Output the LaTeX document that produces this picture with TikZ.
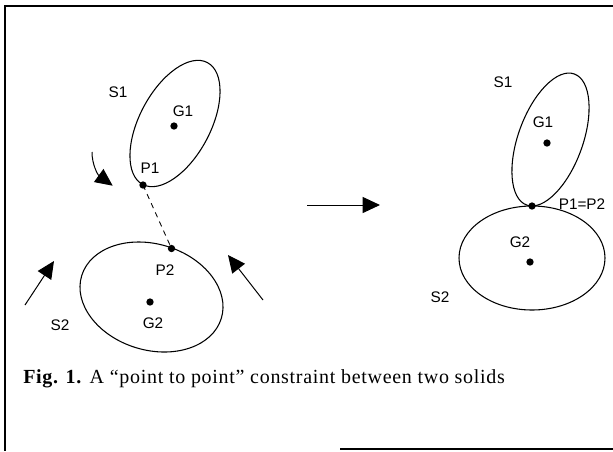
\documentclass[tikz,border=0pt]{standalone}
\usepackage{fontspec}
\setmainfont{Liberation Serif}
\newfontfamily\lblfont{Liberation Sans}
\newfontfamily\capfont[LetterSpace=3.5]{Liberation Serif}
\usetikzlibrary{arrows.meta}
\begin{document}
\begin{tikzpicture}[x=0.75pt,y=-0.75pt,
  outline/.style={line width=0.8pt},
  dotpt/.style={circle,fill,inner sep=0pt,minimum size=5.5pt},
  lbl/.style={font=\lblfont\fontsize{11.5}{13}\selectfont, inner sep=0pt},
  bigarrow/.style={line width=0.75pt,-{Triangle[length=13pt,width=12pt]}},
  dashline/.style={line width=0.65pt,dash pattern=on 4pt off 3.5pt},
  frameline/.style={line width=1.1pt}]
\useasboundingbox (0,0) rectangle (613,451);
% frame
\draw[frameline] (4,6) -- (613,6);
\draw[frameline] (5,6) -- (5,451);
\draw[frameline] (340,449) -- (613,449);

% ---------- left: before ----------
\draw[outline, rotate around={62:(175,123.5)}] (175,123.5) ellipse [x radius=51.75pt, y radius=26.6pt];
\draw[outline, rotate around={-17:(151.5,297)}] (151.5,297) ellipse [x radius=54.75pt, y radius=39.75pt];
\node[dotpt] (G1a) at (174,126) {};
\node[dotpt] (P1a) at (143,185) {};
\node[dotpt] (P2a) at (171.5,248.5) {};
\node[dotpt] (G2a) at (150,302) {};
\node[lbl] (S1a) at (118,92) {S1};
\node[lbl] (G1la) at (183,111) {G1};
\node[lbl] (P1la) at (150,168) {P1};
\node[lbl] (P2la) at (165,270) {P2};
\node[lbl] (G2la) at (153,323) {G2};
\node[lbl] (S2a) at (60,325) {S2};
\draw[dashline] (P1a.center) -- (P2a.center);

% motion arrows
\coordinate (cs) at (92,152);
\coordinate (ce) at (112.7,185.7);
\draw[bigarrow] (cs) .. controls (92,165) and (98,175) .. (ce);
\coordinate (las) at (25,305);
\coordinate (lae) at (54,261);
\draw[bigarrow] (las) -- (lae);
\coordinate (ras) at (263,300);
\coordinate (rae) at (228,255);
\draw[bigarrow] (ras) -- (rae);

% transition arrow
\coordinate (ts) at (307,205);
\coordinate (te) at (380,205);
\draw[bigarrow] (ts) -- (te);

% ---------- right: after ----------
\draw[outline, rotate around={70:(550.5,139.5)}] (550.5,139.5) ellipse [x radius=52.3pt, y radius=24.2pt];
\draw[outline] (532,258) ellipse [x radius=54.75pt, y radius=39pt];
\node[dotpt] (G1b) at (547,143) {};
\node[dotpt] (Pb) at (532,206) {};
\node[dotpt] (G2b) at (530,262) {};
\node[lbl] (S1b) at (503,82) {S1};
\node[lbl] (G1lb) at (543,122) {G1};
\node[lbl] (Plb) at (582,204) {P1=P2};
\node[lbl] (G2lb) at (520,242) {G2};
\node[lbl] (S2b) at (440,297) {S2};

% caption
\node[anchor=base west, inner sep=0pt, font=\capfont\fontsize{15}{17}\selectfont] (cap) at (23,383)
  {\textbf{Fig. 1.} A “point to point” constraint between two solids};
\end{tikzpicture}
\end{document}
